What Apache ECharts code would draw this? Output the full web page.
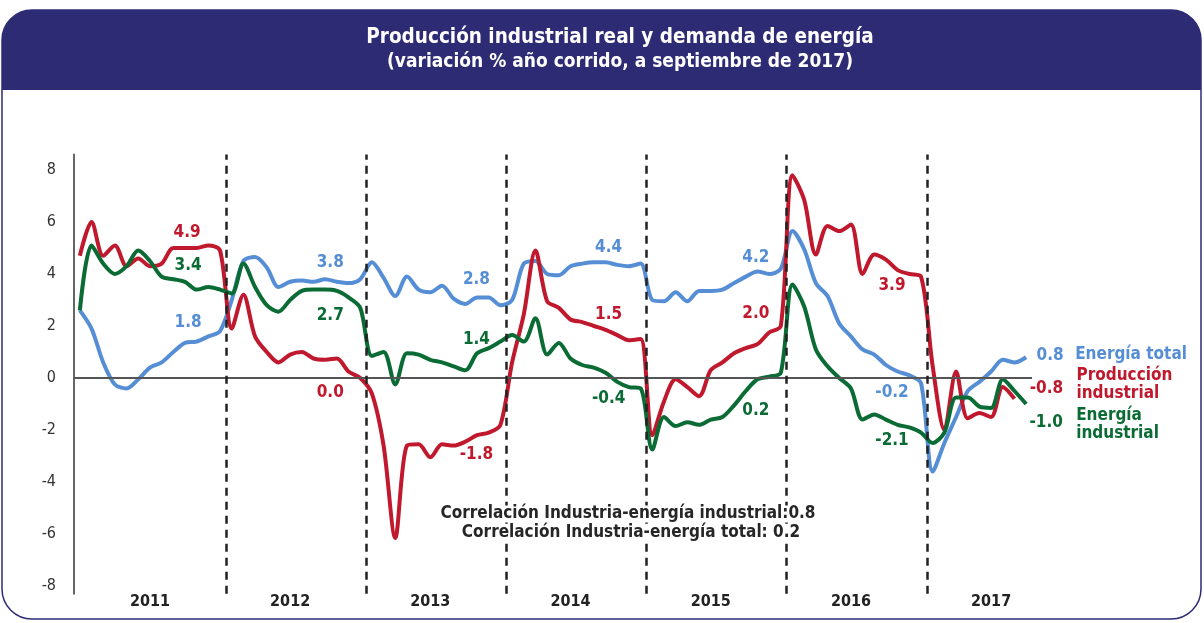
<!DOCTYPE html>
<html>
<head>
<meta charset="utf-8">
<script src="https://cdn.jsdelivr.net/npm/echarts@6/dist/echarts.min.js"></script>
<style>
html,body{margin:0;padding:0;background:#fff;}
#chart{width:1204px;height:623px;}
</style>
</head>
<body>
<div id="chart"></div>
<script>
// meses: dic-2010 ... sep-2017
var categories = ['2010-12'];
var monthNums = ['01','02','03','04','05','06','07','08','09','10','11','12'];
['2011','2012','2013','2014','2015','2016','2017'].forEach(function(y){
  monthNums.forEach(function(m){
    if (y === '2017' && +m > 9) return;
    categories.push(y + '-' + m);
  });
});

var yTicks = [-8, -6, -4, -2, 0, 2, 4, 6, 8];

var energiaTotal = [
  2.6, 1.9, 0.6, -0.25, -0.4, -0.05, 0.4, 0.6, 1.0, 1.35, 1.4, 1.6, 1.8,
  3.0, 4.5, 4.65, 4.25, 3.5, 3.7, 3.75, 3.7, 3.8, 3.7, 3.65, 3.8,
  4.45, 3.85, 3.15, 3.9, 3.4, 3.3, 3.55, 3.05, 2.85, 3.1, 3.1, 2.8,
  3.0, 4.4, 4.5, 4.0, 3.95, 4.3, 4.4, 4.45, 4.45, 4.35, 4.3, 4.4,
  3.0, 2.95, 3.3, 2.95, 3.35, 3.35, 3.4, 3.65, 3.9, 4.1, 4.0, 4.2,
  5.65, 4.95, 3.65, 3.15, 2.1, 1.6, 1.1, 0.9, 0.5, 0.25, 0.1, -0.2,
  -3.6, -2.5, -1.5, -0.5, -0.15, 0.25, 0.7, 0.6, 0.8
];

var produccion = [
  4.7, 6.0, 4.7, 5.1, 4.3, 4.6, 4.3, 4.4, 5.0, 5.0, 5.0, 5.1, 4.9,
  1.9, 3.2, 1.6, 1.0, 0.6, 0.9, 1.0, 0.75, 0.7, 0.75, 0.25, 0.0,
  -0.6, -2.6, -6.15, -2.6, -2.55, -3.05, -2.55, -2.6, -2.45, -2.2, -2.1, -1.8,
  0.6, 2.45, 4.9, 2.95, 2.7, 2.25, 2.15, 2.0, 1.85, 1.65, 1.45, 1.5,
  -2.2, -0.9, -0.05, -0.35, -0.7, 0.3, 0.6, 0.95, 1.15, 1.3, 1.75, 2.0,
  7.8, 6.85, 4.75, 5.85, 5.65, 5.9, 4.0, 4.75, 4.55, 4.15, 4.0, 3.9,
  0.45, -2.0, 0.25, -1.55, -1.35, -1.5, -0.35, -0.8, null
];

var energiaIndustrial = [
  2.6, 5.1, 4.4, 4.0, 4.3, 4.9, 4.5, 3.9, 3.8, 3.7, 3.4, 3.5, 3.4,
  3.25, 4.4, 3.5, 2.8, 2.55, 3.0, 3.35, 3.4, 3.4, 3.35, 3.1, 2.7,
  0.85, 1.0, -0.25, 0.95, 0.9, 0.7, 0.6, 0.45, 0.3, 0.95, 1.15, 1.4,
  1.65, 1.4, 2.3, 0.9, 1.35, 0.75, 0.5, 0.4, 0.2, -0.15, -0.35, -0.4,
  -2.75, -1.5, -1.85, -1.7, -1.8, -1.6, -1.5, -1.05, -0.5, -0.05, 0.05, 0.2,
  3.6, 2.75, 1.1, 0.45, 0.0, -0.4, -1.6, -1.4, -1.6, -1.8, -1.9, -2.1,
  -2.5, -2.1, -0.75, -0.75, -1.1, -1.15, -0.05, -0.5, -1.0
];

var FONT = "'DejaVu Sans Condensed', 'Liberation Sans Narrow', 'DejaVu Sans', sans-serif";
var BLUE = '#558ED5', RED = '#C0182D', GREEN = '#0B6B34', NAVY = '#2E2B75';

// separadores de año: borde izquierdo de cada enero (salvo el primero)
var yearBreaks = [];
categories.forEach(function(c, i) {
  if (i > 1 && c.slice(5) === '01') yearBreaks.push({xAxis: i});
});

// [indice, dx, dy] de las etiquetas de fin de año
var blueLabels = [[12, -32, -9], [24, -30, -17], [36, -24, -26], [48, -32, -16], [60, -25, -11], [72, -29, 9], [81, 24, -2]];
var redLabels = [[12, -33, -18], [24, -30, 15], [36, -24, 30], [48, -32, -24], [60, -25, -12], [72, -29, 9], [80, 32, -10]];
var greenLabels = [[12, -32, -24], [24, -30, 8], [36, -24, -2], [48, -32, 10], [60, -25, 38], [72, -29, 8], [81, 20, 19]];

function marks(values, color, labels, name, nameOffset) {
  var d = labels.map(function(l) {
    return {
      coord: [l[0], values[l[0]]],
      value: values[l[0]],
      label: {offset: [l[1], l[2]]}
    };
  });
  var last = labels[labels.length - 1][0];
  d.push({
    coord: [last, values[last]],
    value: values[last],
    label: {formatter: name, align: 'left', offset: nameOffset, lineHeight: 18}
  });
  return {
    symbol: 'circle', symbolSize: 0, silent: true,
    label: {
      show: true, position: 'inside', color: color,
      fontFamily: FONT, fontWeight: 'bold', fontSize: 17,
      formatter: function(p) { return p.value.toFixed(1); }
    },
    data: d
  };
}

function lineSeries(name, values, color, labels, nameOffset) {
  return {
    name: name, type: 'line', data: values, smooth: 0.3,
    symbol: 'none', z: 3,
    lineStyle: {color: color, width: 4},
    itemStyle: {color: color},
    markPoint: marks(values, color, labels, name, nameOffset)
  };
}

var chart = echarts.init(document.getElementById('chart'));
chart.setOption({
  backgroundColor: '#fff',
  animation: false,
  graphic: [
    {type: 'rect', shape: {x: 2, y: 10, width: 1199, height: 609, r: 30},
     style: {fill: 'none', stroke: NAVY, lineWidth: 1.5}},
    {type: 'rect', shape: {x: 2, y: 10, width: 1199, height: 80, r: [30, 30, 0, 0]},
     style: {fill: NAVY}},
    {type: 'text', x: 620, y: 38, zlevel: 1,
     style: {text: 'Producción industrial real y demanda de energía', textAlign: 'center',
             textVerticalAlign: 'middle', fill: '#fff', font: 'bold 20.5px ' + FONT}},
    {type: 'text', x: 620, y: 62, zlevel: 1,
     style: {text: '(variación % año corrido, a septiembre de 2017)', textAlign: 'center',
             textVerticalAlign: 'middle', fill: '#fff', font: 'bold 19px ' + FONT}},
    {type: 'text', x: 628, y: 514, zlevel: 1,
     style: {text: 'Correlación Industria-energía industrial:0.8', textAlign: 'center',
             textVerticalAlign: 'middle', fill: '#262626', font: 'bold 17px ' + FONT,
             backgroundColor: '#fff'}},
    {type: 'text', x: 631, y: 533, zlevel: 1,
     style: {text: 'Correlación Industria-energía total: 0.2', textAlign: 'center',
             textVerticalAlign: 'middle', fill: '#262626', font: 'bold 17px ' + FONT,
             backgroundColor: '#fff'}}
  ],
  grid: {left: 74, right: 172, top: 154.4, bottom: 29.2},
  xAxis: [{
    type: 'category', data: categories, boundaryGap: true,
    axisLine: {show: false, onZero: false},
    axisTick: {show: false},
    splitLine: {show: false},
    axisLabel: {
      interval: function(i) { return i % 12 === 6; },
      formatter: function(v) { return v.slice(0, 4); },
      color: '#222', fontFamily: FONT, fontWeight: 'bold', fontSize: 16, margin: 0
    }
  }, {
    // eje auxiliar en unidades de mes para los separadores de año
    type: 'value', min: 0, max: categories.length, show: false
  }],
  yAxis: {
    type: 'value', min: -8.3, max: 8.6,
    axisLine: {show: true, lineStyle: {color: '#666', width: 2}},
    axisTick: {show: false},
    splitLine: {show: false},
    axisLabel: {customValues: yTicks, color: '#333', fontFamily: FONT, fontSize: 16, margin: 18}
  },
  series: [
    {type: 'line', data: [], z: 1,
     markLine: {silent: true, symbol: ['none', 'none'], label: {show: false},
                lineStyle: {color: '#555', width: 2, type: 'solid'}, data: [{yAxis: 0}]}},
    {type: 'line', data: [], xAxisIndex: 1, z: 1,
     markLine: {silent: true, symbol: ['none', 'none'], label: {show: false},
                lineStyle: {color: '#222', width: 2.5, type: [8, 6]}, data: yearBreaks}},
    lineSeries('Energía total', energiaTotal, BLUE, blueLabels, [49, -2.5]),
    lineSeries('Producción\nindustrial', produccion, RED, redLabels, [62, -14]),
    lineSeries('Energía\nindustrial', energiaIndustrial, GREEN, greenLabels, [50, 21])
  ]
});
</script>
</body>
</html>
